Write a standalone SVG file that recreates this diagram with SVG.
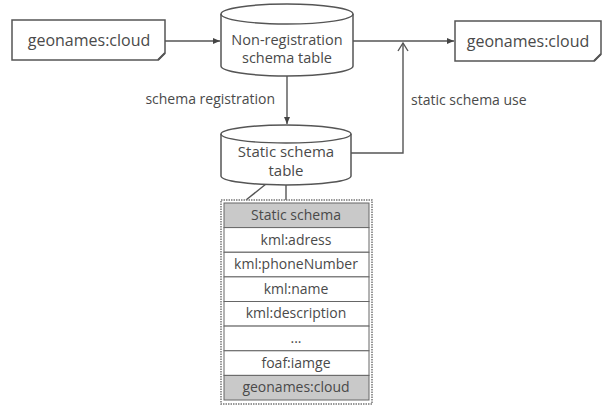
<svg xmlns="http://www.w3.org/2000/svg" width="608" height="407" viewBox="0 0 608 407">
<defs>
<style>
text{font-family:"Open Sans","Noto Sans","DejaVu Sans",sans-serif;fill:#4a4a4a;text-anchor:middle}
.box{fill:#fff;stroke:#555;stroke-width:1.5}
.cyl{fill:#fff;stroke:#555;stroke-width:1.5}
.ln{fill:none;stroke:#555;stroke-width:1.4}
.cell{fill:#fff;stroke:#666;stroke-width:1}
.hd{fill:#c9c9c9;stroke:#666;stroke-width:1}
.t16{font-size:16px}
.t15{font-size:15px}
.t14{font-size:14.5px}
.t13{font-size:14px}
</style>
<marker id="ah" markerWidth="8" markerHeight="8" refX="7" refY="4" orient="auto" markerUnits="userSpaceOnUse">
<path d="M0,1 L7,4 L0,7 Z" fill="#444"/>
</marker>
<marker id="ao" markerWidth="12" markerHeight="12" refX="10" refY="6" orient="auto" markerUnits="userSpaceOnUse">
<path d="M2,1 L10,6 L2,11" fill="none" stroke="#555" stroke-width="1.4"/>
</marker>
</defs>
<rect width="608" height="407" fill="#fff"/>

<g id="connectors">
<line class="ln" x1="165" y1="41" x2="220" y2="41" marker-end="url(#ah)"/>
<line class="ln" x1="353" y1="41" x2="454" y2="41" marker-end="url(#ah)"/>
<line class="ln" x1="287" y1="76" x2="287" y2="124" marker-end="url(#ah)"/>
<polyline class="ln" points="351,153 403,153 403,43" marker-end="url(#ao)"/>
<line class="ln" x1="286" y1="185" x2="286" y2="200"/>
<line class="ln" x1="266" y1="184" x2="246" y2="200"/>
<text class="t13" x="275" y="104" style="text-anchor:end">schema registration</text>
<text class="t13" x="411" y="105" style="text-anchor:start">static schema use</text>
</g>

<g id="src">
<path class="box" d="M12,20 H165 V53 L158,60 H12 Z"/>
<path d="M158,60 L165,53" fill="none" stroke="#555" stroke-width="2"/>
<text class="t16" x="89" y="46">geonames:cloud</text>
</g>

<g id="dst">
<path class="box" d="M455,21 H601 V54 L594,61 H455 Z"/>
<path d="M594,61 L601,54" fill="none" stroke="#555" stroke-width="2"/>
<text class="t16" x="528" y="47">geonames:cloud</text>
</g>

<g id="nonreg">
<path class="cyl" d="M221,14 A66,10 0 0,1 353,14 V66 A66,10 0 0,1 221,66 Z"/>
<path class="ln" d="M221,14 A66,10 0 0,0 353,14"/>
<text class="t14" x="287" y="45">Non-registration</text>
<text class="t14" x="287" y="63">schema table</text>
</g>

<g id="static">
<path class="cyl" d="M221,134 A65,9 0 0,1 351,134 V176 A65,9 0 0,1 221,176 Z"/>
<path class="ln" d="M221,134 A65,9 0 0,0 351,134"/>
<text class="t15" x="286" y="157">Static schema</text>
<text class="t15" x="286" y="176">table</text>
</g>

<g id="schema-table">
<rect x="221" y="200" width="151" height="204" fill="#fff" stroke="#777" stroke-width="1.5" stroke-dasharray="1.5,1"/>
<rect class="hd" x="224" y="203" width="145" height="24.6"/>
<rect class="cell" x="224" y="227.6" width="145" height="24.6"/>
<rect class="cell" x="224" y="252.3" width="145" height="24.6"/>
<rect class="cell" x="224" y="276.9" width="145" height="24.6"/>
<rect class="cell" x="224" y="301.5" width="145" height="24.6"/>
<rect class="cell" x="224" y="326.1" width="145" height="24.6"/>
<rect class="cell" x="224" y="350.8" width="145" height="24.6"/>
<rect class="hd" x="224" y="375.4" width="145" height="24.6"/>
<text class="t13" x="296" y="220">Static schema</text>
<text class="t13" x="296" y="245">kml:adress</text>
<text class="t13" x="296" y="269">kml:phoneNumber</text>
<text class="t13" x="296" y="294">kml:name</text>
<text class="t13" x="296" y="318">kml:description</text>
<text class="t13" x="296" y="343">...</text>
<text class="t13" x="296" y="368">foaf:iamge</text>
<text class="t13" x="296" y="392">geonames:cloud</text>
</g>
</svg>
